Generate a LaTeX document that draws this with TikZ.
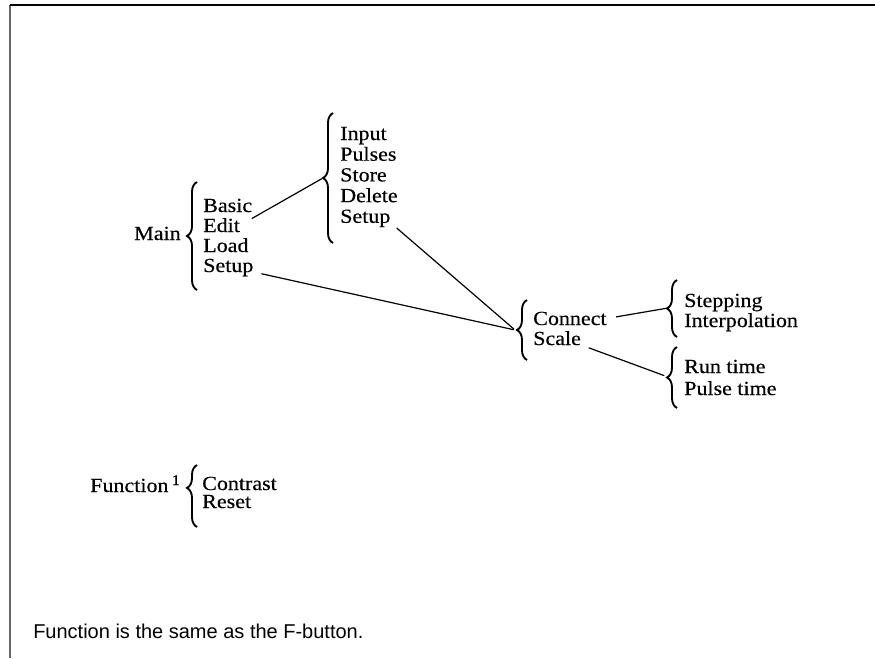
\documentclass[tikz,border=0pt]{standalone}
\usepackage{fontspec}
\setmainfont{Liberation Serif}[FakeStretch=1.1,FakeBold=0.4]
\newfontfamily\footfont{Liberation Sans}
\usetikzlibrary{decorations.pathreplacing}
\begin{document}
\begin{tikzpicture}[x=0.75pt,y=-0.75pt,
  item/.style={anchor=base west,inner sep=0pt,font=\fontsize{15}{16}\selectfont},
  bracestyle/.style={decorate,decoration={brace,amplitude=7.5pt},line width=1.4pt},
  conn/.style={line width=0.9pt}]
\useasboundingbox (0,0) rectangle (875,658);
\draw[line width=1.6pt,black!60] (10,5) -- (10,658);
\draw[line width=1.8pt] (10,5) -- (875,5);

% Main column
\node[item] (main) at (134,240) {Main};
\draw[bracestyle] (197,290) -- (197,182);
\coordinate (t1) at (187,236);
\node[item] (basic) at (203,212) {Basic};
\node[item] (edit) at (203,232) {Edit};
\node[item] (load) at (203,252) {Load};
\node[item] (setupa) at (203,272) {Setup};

% Basic column
\draw[bracestyle] (333,243) -- (333,113);
\coordinate (t2) at (323,178);
\node[item] (input) at (340,140) {Input};
\node[item] (pulses) at (340,160.7) {Pulses};
\node[item] (store) at (340,181.4) {Store};
\node[item] (delete) at (340,202.1) {Delete};
\node[item] (setupb) at (340,222.8) {Setup};

% Setup column
\draw[bracestyle] (527,360) -- (527,300);
\coordinate (t3) at (515,330);
\node[item] (connect) at (533,325) {Connect};
\node[item] (scale) at (533,345) {Scale};

% Connect column
\draw[bracestyle] (677,337) -- (677,280);
\coordinate (t4) at (668,308);
\node[item] (stepping) at (684,307) {Stepping};
\node[item] (interp) at (684,327) {Interpolation};

% Scale column
\draw[bracestyle] (677,408) -- (677,347);
\coordinate (t5) at (668,377);
\node[item] (runtime) at (684,373) {Run time};
\node[item] (pulsetime) at (684,395) {Pulse time};

% Function
\node[item] (function) at (90,492) {Function\,\raisebox{0.35em}{\fontsize{11}{12}\selectfont 1}};
\draw[decorate,decoration={brace,amplitude=7.5pt,aspect=0.63},line width=1.4pt] (197,527) -- (197,465);
\coordinate (t6) at (188,488);
\node[item] (contrast) at (202,490) {Contrast};
\node[item] (reset) at (202,508) {Reset};

% connectors
\draw[conn,shorten <=10pt,shorten >=1pt] (edit.east) -- (t2);
\draw[conn,shorten <=6pt,shorten >=1pt] (setupb.base east) -- (t3);
\draw[conn,shorten <=6pt,shorten >=1pt] (setupa.base east) -- (t3);
\draw[conn,shorten <=7pt,shorten >=1pt] (connect.east) -- (t4);
\draw[conn,shorten <=6pt,shorten >=3pt] (scale.base east) -- (t5);

\node[anchor=base west,inner sep=0pt,font=\footfont\fontsize{15}{18}\selectfont] (foot) at (33,638) {Function is the same as the F-button.};
\end{tikzpicture}
\end{document}
